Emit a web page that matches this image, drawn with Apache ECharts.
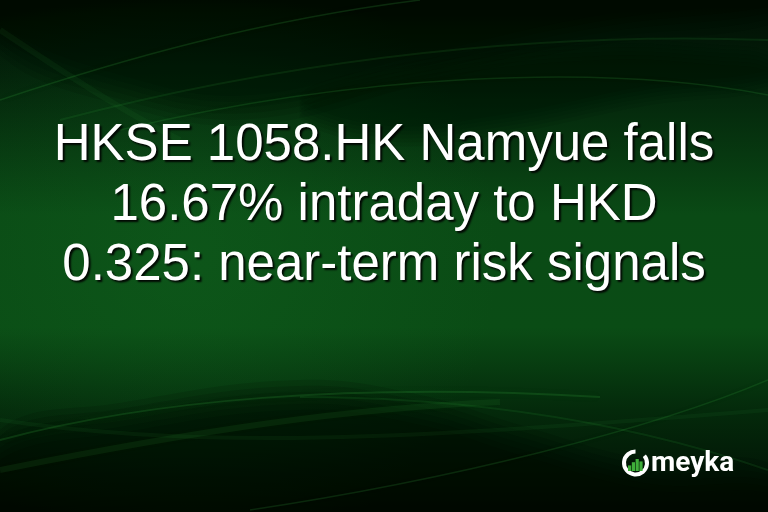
<!DOCTYPE html>
<html><head><meta charset="utf-8">
<script src="https://cdn.jsdelivr.net/npm/echarts@6/dist/echarts.min.js"></script>
<style>html,body{margin:0;padding:0;background:#021505}#c{width:768px;height:512px}</style>
</head><body><div id="c"></div>
<script>
const titleLines = ["HKSE 1058.HK Namyue falls", "16.67% intraday to HKD", "0.325: near-term risk signals"];
const brandName = "meyka";
const logoBars = [0.35, 0.55, 0.75, 0.6];

const chart = echarts.init(document.getElementById('c'), null, {renderer: 'canvas'});
const W = 768, H = 512;
const LG = echarts.graphic.LinearGradient, RG = echarts.graphic.RadialGradient;
const g = [];
// background: vertical green band
g.push({type:'rect', shape:{x:0,y:0,width:W,height:H}, style:{fill:new LG(0,0,0,1,[
  {offset:0,color:'#010c03'},{offset:0.15,color:'#03210a'},{offset:0.42,color:'#0a4a15'},
  {offset:0.64,color:'#0a4c15'},{offset:0.8,color:'#042a0b'},{offset:1,color:'#010c03'}])}});
// soft glow left-middle
g.push({type:'rect', shape:{x:0,y:0,width:W,height:H}, style:{fill:new RG(0.25,0.5,0.6,[
  {offset:0,color:'rgba(20,110,35,0.3)'},{offset:1,color:'rgba(20,110,35,0)'}])}});
// soft dark shapes: stacked copies shifted to fake a blurred edge
function softShape(pts, dy, alpha, steps){
  for(let k=0;k<steps;k++){
    const off = dy*(k/(steps-1)-0.5);
    g.push({type:'polygon', shape:{points:pts.map(p=>[p[0], p[1]+(p[2]?off:0)]), smooth:0.4}, style:{fill:'rgba(0,10,2,'+(alpha/steps)+')'}});
  }
}
// top dark
softShape([[0,0,0],[768,0,0],[768,10,1],[600,30,1],[420,70,1],[250,110,1],[120,90,1],[0,40,1]], 30, 0.6, 6);
softShape([[300,105,1],[420,70,1],[600,50,1],[720,55,1],[768,62,1],[768,80,1],[650,95,1],[500,125,1],[380,135,1]], 20, 0.45, 6);
// bottom dark
softShape([[0,445,1],[120,418,1],[300,395,1],[420,410,1],[520,440,1],[650,475,1],[768,478,1],[768,512,0],[0,512,0]], 30, 0.75, 6);
// light streaks
function streak(x1,y1,c1x,c1y,c2x,c2y,x2,y2,op,w){
  g.push({type:'bezierCurve', shape:{x1:x1,y1:y1,cpx1:c1x,cpy1:c1y,cpx2:c2x,cpy2:c2y,x2:x2,y2:y2},
    style:{fill:'none', stroke:'rgba(50,160,60,'+op+')', lineWidth:w, shadowBlur:10, shadowColor:'rgba(50,160,60,'+op+')'}});
}
streak(0,100, 120,60, 260,20, 420,0, 0.22, 1.5);
streak(60,120, 250,70, 500,30, 768,40, 0.15, 2);
streak(120,130, 350,75, 600,62, 768,95, 0.2, 1.5);
streak(0,30, 60,70, 120,110, 180,140, 0.08, 6);
streak(0,440, 150,400, 350,382, 600,397, 0.22, 2);
streak(0,470, 200,430, 350,408, 500,402, 0.12, 6);
streak(300,397, 430,397, 600,412, 768,470, 0.15, 2);
streak(250,510, 450,480, 650,430, 768,380, 0.2, 1.5);
streak(0,420, 200,450, 400,440, 768,410, 0.08, 4);
// title
titleLines.forEach((t,i)=>{
  g.push({type:'text', x:384, y:171+i*60, style:{text:t, fill:'#ffffff', font:'51px "Liberation Sans", Arial, sans-serif', align:'center', verticalAlign:'bottom', textShadowColor:'rgba(0,0,0,0.9)', textShadowBlur:2, textShadowOffsetX:2, textShadowOffsetY:2}});
});
// logo
const cx=635.5, cy=463, r=11.5;
g.push({type:'arc', shape:{cx:cx, cy:cy, r:r, startAngle:-Math.PI*0.22, endAngle:-Math.PI*0.5, clockwise:true}, style:{stroke:'#ffffff', lineWidth:4, fill:'none'}});
logoBars.forEach((h,i)=>{
  const bw=3.2, x0=cx-7.5+i*3.8, bh=h*16;
  g.push({type:'rect', shape:{x:x0, y:cy+8-bh, width:bw, height:bh}, style:{fill:'#3fae3a'}});
});
g.push({type:'text', x:651, y:478, style:{text:brandName, fill:'#ffffff', font:'bold 28px Roboto, sans-serif', verticalAlign:'bottom'}});

chart.setOption({backgroundColor:'#021505', animation:false, graphic:{elements:g}});
</script></body></html>
